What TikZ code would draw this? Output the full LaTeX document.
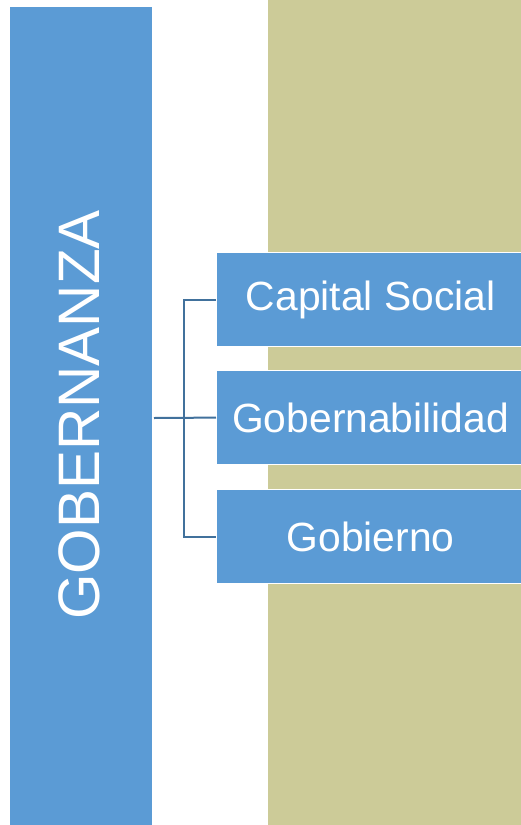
\documentclass[tikz,border=0pt]{standalone}
\usepackage{fontspec}
\setmainfont{Liberation Sans}
\definecolor{bblue}{HTML}{5B9BD5}
\definecolor{olive}{HTML}{CCCB98}
\definecolor{conn}{HTML}{41719C}
\begin{document}
\begin{tikzpicture}[x=1pt,y=-1pt,
  sub/.style={draw=white,line width=1.2pt,fill=bblue,text=white,minimum width=305pt,minimum height=94pt,inner sep=0pt,font=\fontsize{40.8}{48}\selectfont},
  link/.style={draw=conn,line width=2pt}]
\useasboundingbox (0,0) rectangle (521,825);
\fill[white] (0,0) rectangle (521,825);
\fill[olive] (268,0) rectangle (521,825);
\fill[bblue] (10,7) rectangle (152,825);
\node[text=white,rotate=90,font=\fontsize{58.5}{70}\selectfont,inner sep=0pt] (gob) at (79,415) {GOBERNANZA};
\coordinate (gobr) at (154,418);
\node[sub,anchor=north west] (cs) at (216,252) {\hspace*{3pt}Capital Social};
\node[sub,anchor=north west] (gb) at (216,370) {\hspace*{3pt}Gobernabilidad};
\node[sub,anchor=north west] (go) at (216,489) {\hspace*{3pt}Gobierno};
\coordinate (j) at (184,418);
\draw[link] (gobr) -- (gb.west);
\draw[link] (cs.west) -| (j) |- (go.west);
\end{tikzpicture}
\end{document}
